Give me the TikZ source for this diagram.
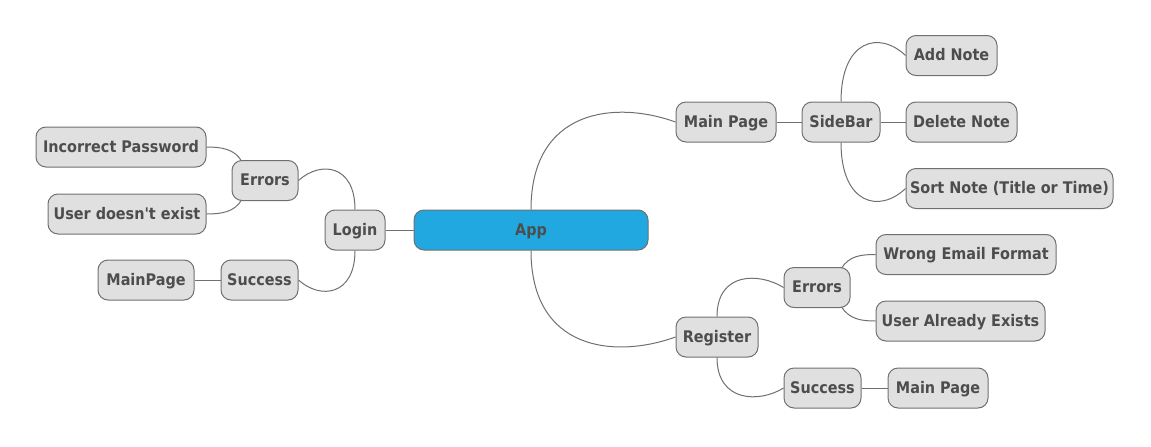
\documentclass[tikz,border=0pt]{standalone}
\usepackage{fontspec}
\setmainfont{DejaVu Sans Condensed}
\usetikzlibrary{backgrounds,calc}
\definecolor{boxfill}{HTML}{E0E0E0}
\definecolor{boxline}{HTML}{707070}
\definecolor{txt}{HTML}{4D4D4D}
\definecolor{appblue}{HTML}{22A8E0}
\tikzset{
  mmbox/.style={draw=boxline, fill=boxfill, rounded corners=7.5pt, line width=0.75pt,
    minimum height=30pt, inner sep=0pt, text height=8.75pt, text depth=1pt,
    text=txt, font=\bfseries\fontsize{12pt}{14pt}\selectfont},
  boxw/.style={minimum width=#1*0.75pt},
  link/.style={draw=boxline, line width=0.75pt}
}
\begin{document}
\begin{tikzpicture}[x=0.75pt,y=-0.75pt]
\useasboundingbox (0,0) rectangle (1151,446);
% nodes
\node[mmbox, boxw=234, fill=appblue] (app) at (531,230) {App};
\node[mmbox, boxw=60] (login) at (355,230) {Login};
\node[mmbox, boxw=66] (errL) at (265,180.5) {Errors};
\node[mmbox, boxw=170] (inc) at (121,147) {Incorrect Password};
\node[mmbox, boxw=158] (udne) at (127,214) {User doesn\textquotesingle t exist};
\node[mmbox, boxw=77] (sucL) at (259.5,280) {Success};
\node[mmbox, boxw=96] (mpL) at (146,280) {MainPage};
\node[mmbox, boxw=100] (mp) at (726,122) {Main Page};
\node[mmbox, boxw=78] (sb) at (841,122) {SideBar};
\node[mmbox, boxw=91] (add) at (951.5,55.5) {Add Note};
\node[mmbox, boxw=111] (del) at (961.5,122) {Delete Note};
\node[mmbox, boxw=207] (sort) at (1009.5,188.5) {Sort Note (Title or Time)};
\node[mmbox, boxw=82] (reg) at (717,337) {Register};
\node[mmbox, boxw=66] (errR) at (817,287.5) {Errors};
\node[mmbox, boxw=180] (wef) at (966,254.5) {Wrong Email Format};
\node[mmbox, boxw=169] (uae) at (960.5,321) {User Already Exists};
\node[mmbox, boxw=77] (sucR) at (822.5,388) {Success};
\node[mmbox, boxw=100] (mpR) at (938,388) {Main Page};
% connectors
\begin{scope}[on background layer]
\draw[link] (app.north) .. controls +(0,-100) and +(-61,-22) .. (mp.west);
\draw[link] (app.south) .. controls +(0,100) and +(-61,22) .. (reg.west);
\draw[link] (login.east) -- (app.west);
\draw[link] (login.north) .. controls +(0,-45) and +(22,-20) .. (errL.east);
\draw[link] (login.south) .. controls +(0,45) and +(22,20) .. (sucL.east);
\draw[link] ($(errL.north west)+(10,1)$) .. controls +(-7,-12) and +(15,0) .. (inc.east);
\draw[link] ($(errL.south west)+(10,-1)$) .. controls +(-7,12) and +(15,0) .. (udne.east);
\draw[link] (sucL.west) -- (mpL.east);
\draw[link] (mp.east) -- (sb.west);
\draw[link] (sb.north) .. controls +(0,-62) and +(-26,-25) .. (add.west);
\draw[link] (sb.east) -- (del.west);
\draw[link] (sb.south) .. controls +(0,62) and +(-26,25) .. (sort.west);
\draw[link] (reg.north) .. controls +(0,-45) and +(-24,-15) .. (errR.west);
\draw[link] (reg.south) .. controls +(0,45) and +(-24,15) .. (sucR.west);
\draw[link] ($(errR.north east)+(-9,1)$) .. controls +(8,-12) and +(-15,0) .. (wef.west);
\draw[link] ($(errR.south east)+(-9,-1)$) .. controls +(8,12) and +(-15,0) .. (uae.west);
\draw[link] (sucR.east) -- (mpR.west);
\end{scope}
\end{tikzpicture}
\end{document}
